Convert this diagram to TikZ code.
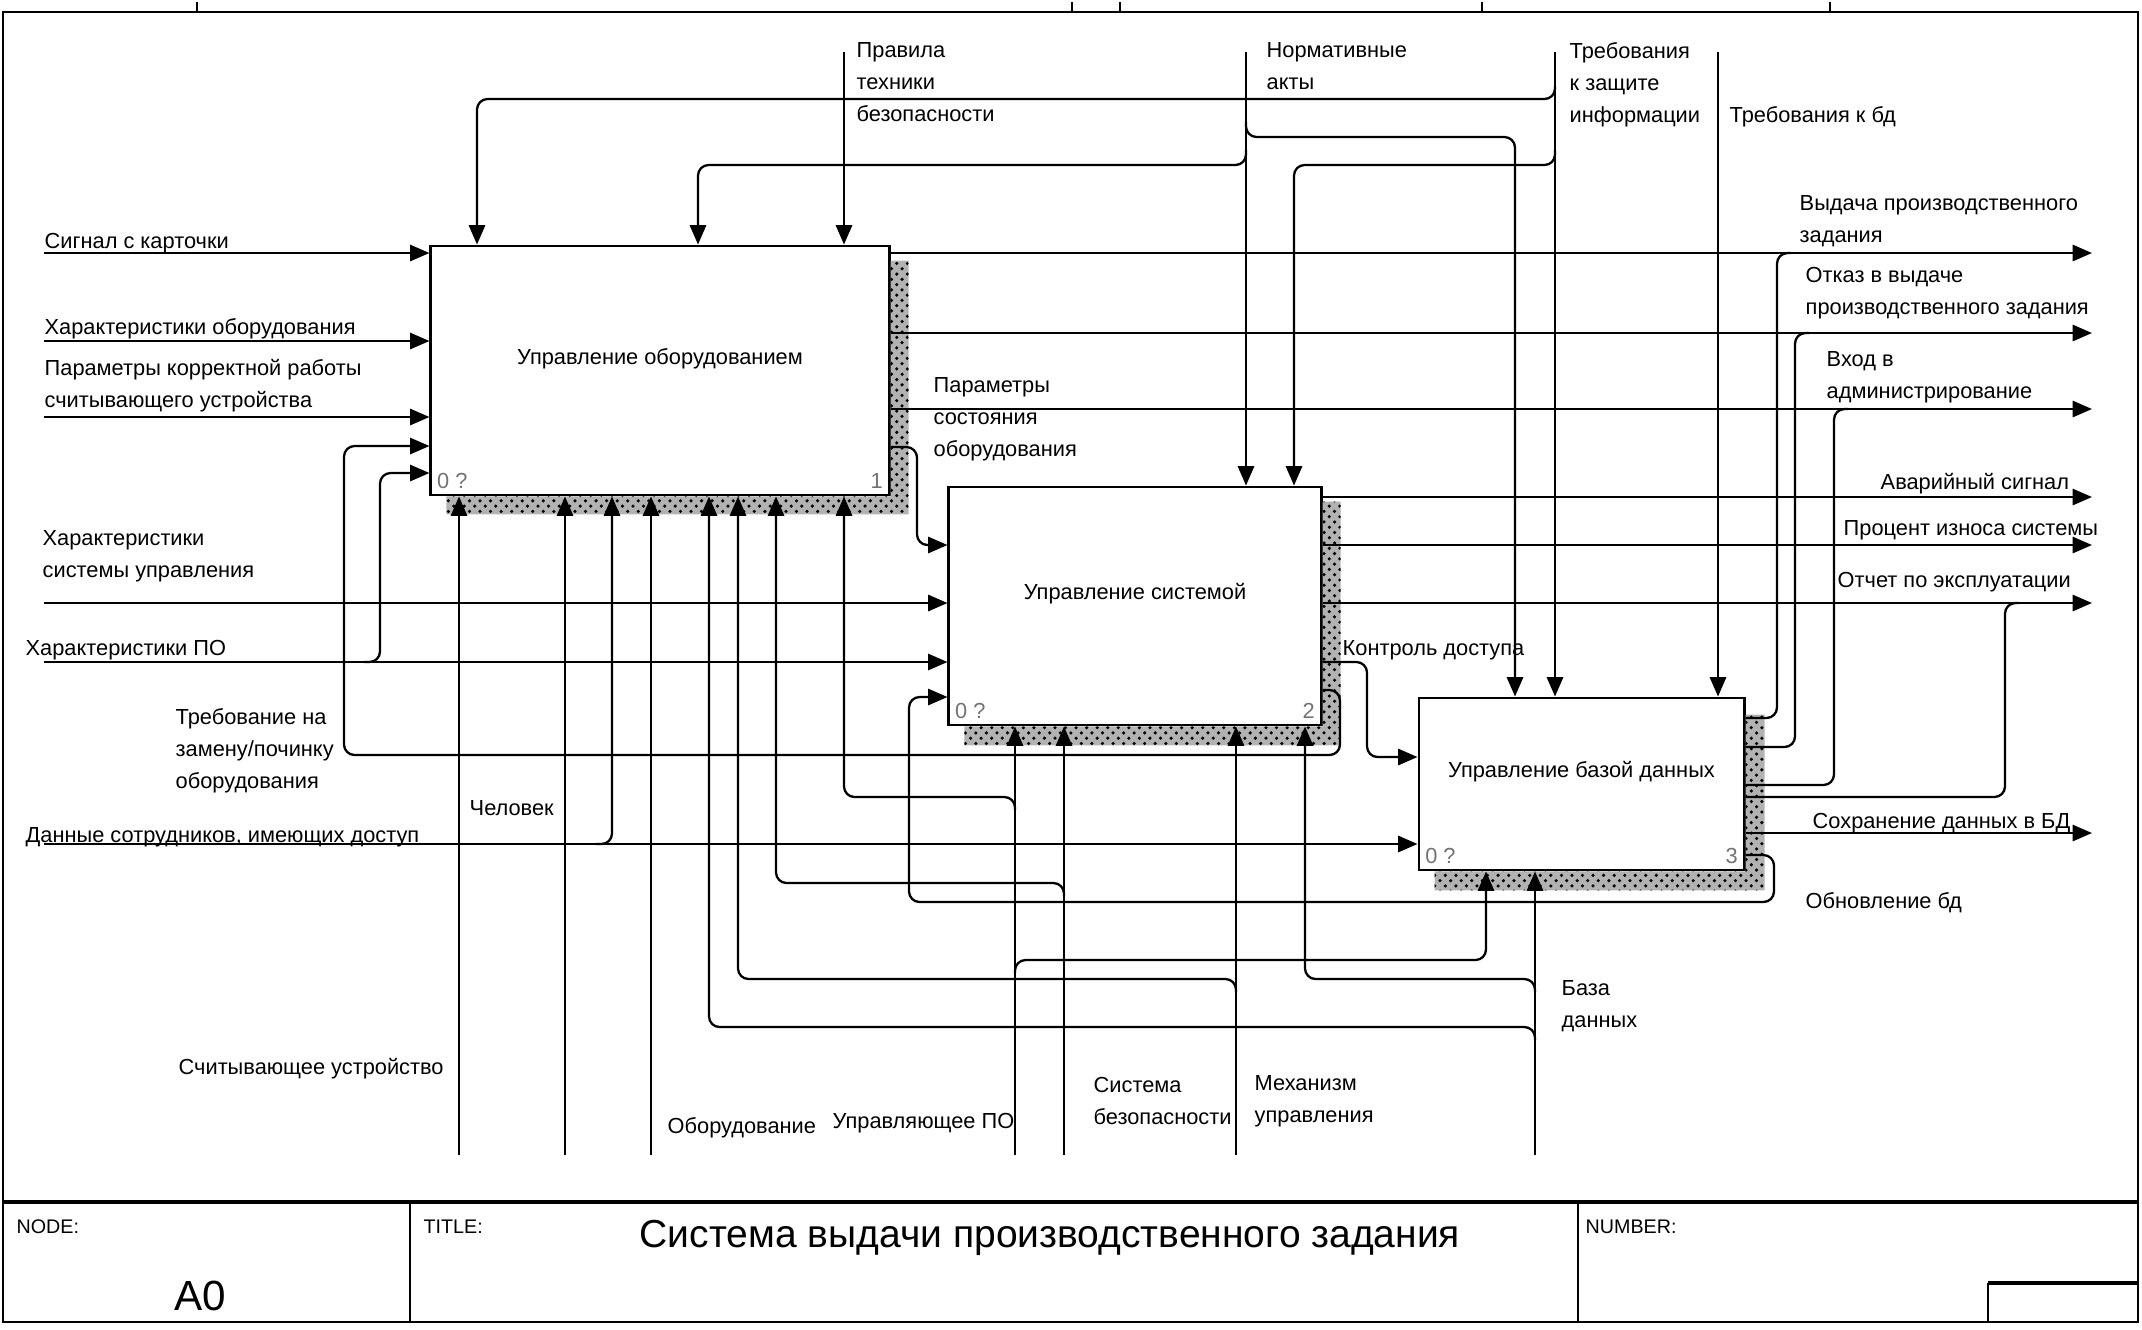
\documentclass[tikz,border=0pt]{standalone}
\usepackage{fontspec}
\setmainfont{Liberation Sans}
\usetikzlibrary{arrows.meta,calc,patterns}
\newcommand\lblfont{\fontsize{6.2}{9}\selectfont}
\newcommand\cellfont{\fontsize{5.6}{7}\selectfont}

\begin{document}
\begin{tikzpicture}[
  x=0.01cm, y=-0.01cm,
  fnbox/.style={draw, line width=0.8pt, fill=white, font=\lblfont,
    inner sep=0pt, text height=4.5pt, text depth=8pt},
  shade/.style={preaction={fill=black!30}, pattern=crosshatch dots, pattern color=black},
  flow/.style={-{Triangle[length=5.5pt,width=4.6pt]}, line width=0.65pt, rounded corners=3pt},
  branch/.style={line width=0.65pt, rounded corners=3pt},
  lbl/.style={anchor=north west, inner sep=0pt, align=left, font=\lblfont},
  tag/.style={font=\lblfont, text=black!55, inner sep=2pt},
  cell/.style={anchor=north west, inner sep=0pt, font=\cellfont}
]
  \useasboundingbox (0,0) rectangle (2142,1329);

  % frame and title block
  \draw[line width=0.7pt] (3,12) -- (2138,12) -- (2138,1322) -- (3,1322) -- cycle;
  \foreach \tx in {197,1072,1120,1482,1830} \draw[line width=0.5pt] (\tx,2) -- (\tx,12);
  \draw[line width=1.1pt] (3,1202) -- (2138,1202);
  \draw[line width=0.6pt] (410,1202) -- (410,1322);
  \draw[line width=0.6pt] (1578,1202) -- (1578,1322);
  \draw[line width=0.6pt] (1988,1322) -- (1988,1283);
  \draw[line width=1.1pt] (1988,1283) -- (2138,1283);

  \node[cell] (nodecap) at (16,1219) {NODE:};
  \node[font=\fontsize{12}{14}\selectfont] (nodeid) at (200,1296) {A0};
  \node[cell] (titlecap) at (423,1219) {TITLE:};
  \node[font=\fontsize{11.1}{14}\selectfont] (title) at (1050,1238) {Система выдачи производственного задания};
  \node[cell] (numcap) at (1585,1219) {NUMBER:};

  % activities
  \node[fnbox, minimum width=4.58cm, minimum height=2.49cm,
    label={[tag, anchor=south west]south west:0 ?},
    label={[tag, anchor=south east]south east:1}] (equip) at (660,370.5) {Управление оборудованием};
  \node[fnbox, minimum width=3.72cm, minimum height=2.38cm,
    label={[tag, anchor=south west]south west:0 ?},
    label={[tag, anchor=south east]south east:2}] (sys) at (1135,606) {Управление системой};
  \node[fnbox, minimum width=3.25cm, minimum height=1.72cm,
    label={[tag, anchor=south west]south west:0 ?},
    label={[tag, anchor=south east]south east:3}] (db) at (1581.5,784) {Управление базой данных};

  \fill[shade] ($(equip.north east)+(0,16)$) -- ++(18,0) |- ($(equip.south west)+(17,18)$) |- (equip.south east) -- cycle;
  \fill[shade] ($(sys.north east)+(0,16)$) -- ++(18,0) |- ($(sys.south west)+(17,19)$) |- (sys.south east) -- cycle;
  \fill[shade] ($(db.north east)+(0,18)$) -- ++(19,0) |- ($(db.south west)+(17,19)$) |- (db.south east) -- cycle;

  % free ends
  \coordinate (sig) at (44,253);
  \coordinate (chob) at (44,341);
  \coordinate (par) at (44,417);
  \coordinate (chsu) at (44,603);
  \coordinate (chpo) at (44,662);
  \coordinate (dan) at (44,844);
  \coordinate (prav) at (844,52);
  \coordinate (norm) at (1246,52);
  \coordinate (trzi) at (1555,52);
  \coordinate (trbd) at (1718,52);
  \coordinate (mread) at (459,1155);
  \coordinate (mman) at (565,1155);
  \coordinate (mequip) at (651,1155);
  \coordinate (msoft) at (1015,1155);
  \coordinate (msec) at (1064,1155);
  \coordinate (mctl) at (1236,1155);
  \coordinate (mdb) at (1535,1155);
  \coordinate (issue) at (2092,253);
  \coordinate (refuse) at (2092,333);
  \coordinate (admin) at (2092,409);
  \coordinate (alarm) at (2092,497);
  \coordinate (wear) at (2092,545);
  \coordinate (report) at (2092,603);
  \coordinate (save) at (2092,833);

  % inputs
  \draw[flow] (sig) -- (sig -| equip.west);
  \draw[flow] (chob) -- (chob -| equip.west);
  \draw[flow] (par) -- (par -| equip.west);
  \draw[flow] (chsu) -- (chsu -| sys.west);
  \draw[flow] (chpo) -- (chpo -| sys.west);
  \draw[flow] (364,662) -| (380,473) -- (equip.west |- 0,473);
  \draw[flow] (dan) -- (dan -| db.west);
  \draw[flow] (596,844) -| (equip.south -| 612,0);

  % controls
  \draw[flow] (prav) -- (prav |- equip.north);
  \draw[flow] (norm) -- (norm |- sys.north);
  \draw[flow] (1246,150) |- (698,165) -- (equip.north -| 698,0);
  \draw[flow] (1246,122) |- (1515,137) -- (db.north -| 1515,0);
  \draw[flow] (trzi) -- (trzi |- db.north);
  \draw[flow] (1555,86) |- (477,99) -- (equip.north -| 477,0);
  \draw[flow] (1555,150) |- (1294,165) -- (sys.north -| 1294,0);
  \draw[flow] (trbd) -- (trbd |- db.north);

  % mechanisms
  \draw[flow] (mread) -- (mread |- equip.south);
  \draw[flow] (mman) -- (mman |- equip.south);
  \draw[flow] (mequip) -- (mequip |- equip.south);
  \draw[flow] (msoft) -- (msoft |- sys.south);
  \draw[flow] (1015,810) |- (844,797) -- (equip.south -| 844,0);
  \draw[flow] (1015,973) |- (1486,960) -- (db.south -| 1486,0);
  \draw[flow] (msec) -- (msec |- sys.south);
  \draw[flow] (1064,896) |- (776,883) -- (equip.south -| 776,0);
  \draw[flow] (mctl) -- (mctl |- sys.south);
  \draw[flow] (1236,992) |- (738,979) -- (equip.south -| 738,0);
  \draw[flow] (mdb) -- (mdb |- db.south);
  \draw[flow] (1535,1040) |- (709,1027) -- (equip.south -| 709,0);
  \draw[flow] (1535,992) |- (1305,979) -- (sys.south -| 1305,0);

  % outputs
  \draw[flow] (equip.east |- issue) -- (issue);
  \draw[flow] (equip.east |- refuse) -- (refuse);
  \draw[flow] (equip.east |- admin) -- (admin);
  \draw[flow] (equip.east |- 0,447) -| (917,545) -- (sys.west |- 0,545);
  \draw[flow] (sys.east |- alarm) -- (alarm);
  \draw[flow] (sys.east |- wear) -- (wear);
  \draw[flow] (sys.east |- report) -- (report);
  \draw[flow] (sys.east |- 0,662) -| (1367,757) -- (db.west |- 0,757);
  \draw[flow] (sys.east |- 0,690) -| (1340,755) -| (344,446) -- (equip.west |- 0,446);
  \draw[flow] (db.east |- save) -- (save);
  \draw[branch] (db.east |- 0,718) -| (1777,253) -- ++(14,0);
  \draw[branch] (db.east |- 0,747) -| (1795,333) -- ++(14,0);
  \draw[branch] (db.east |- 0,785) -| (1834,409) -- ++(14,0);
  \draw[branch] (db.east |- 0,797) -| (2005,603) -- ++(14,0);
  \draw[flow] (db.east |- 0,855) -| (1774,902) -| (909,697) -- (sys.west |- 0,697);

  % arrow labels
  \node[lbl] (lsig) at (44,233) {Сигнал с карточки};
  \node[lbl] (lchob) at (44,318) {Характеристики оборудования};
  \node[lbl] (lpar) at (44,359) {Параметры корректной работы\\считывающего устройства};
  \node[lbl] (lchsu) at (42,530) {Характеристики\\системы управления};
  \node[lbl] (lchpo) at (25,640) {Характеристики ПО};
  \node[lbl] (lrepair) at (175,708) {Требование на\\замену/починку\\оборудования};
  \node[lbl] (lman) at (469,800) {Человек};
  \node[lbl] (ldan) at (25,827) {Данные сотрудников, имеющих доступ};
  \node[lbl] (lprav) at (856,42) {Правила\\техники\\безопасности};
  \node[lbl] (lnorm) at (1266,42) {Нормативные\\акты};
  \node[lbl] (ltrzi) at (1569,42) {Требования\\к защите\\информации};
  \node[lbl] (ltrbd) at (1729,106) {Требования к бд};
  \node[lbl] (lissue) at (1799,195) {Выдача производственного\\задания};
  \node[lbl] (lrefuse) at (1805,267) {Отказ в выдаче\\производственного задания};
  \node[lbl] (ladmin) at (1826,351) {Вход в\\администрирование};
  \node[lbl] (lstate) at (933,377) {Параметры\\состояния\\оборудования};
  \node[lbl] (lalarm) at (1880,473) {Аварийный сигнал};
  \node[lbl] (lwear) at (1843,520) {Процент износа системы};
  \node[lbl] (lreport) at (1837,572) {Отчет по эксплуатации};
  \node[lbl] (laccess) at (1342,640) {Контроль доступа};
  \node[lbl] (lsave) at (1812,813) {Сохранение данных в БД};
  \node[lbl] (lupd) at (1805,892) {Обновление бд};
  \node[lbl] (lread) at (178,1058) {Считывающее устройство};
  \node[lbl] (lequip) at (667,1117) {Оборудование};
  \node[lbl] (lsoft) at (832,1113) {Управляющее ПО};
  \node[lbl] (lsec) at (1093,1077) {Система\\безопасности};
  \node[lbl] (lctl) at (1254,1075) {Механизм\\управления};
  \node[lbl] (ldb) at (1561,980) {База\\данных};
\end{tikzpicture}
\end{document}
